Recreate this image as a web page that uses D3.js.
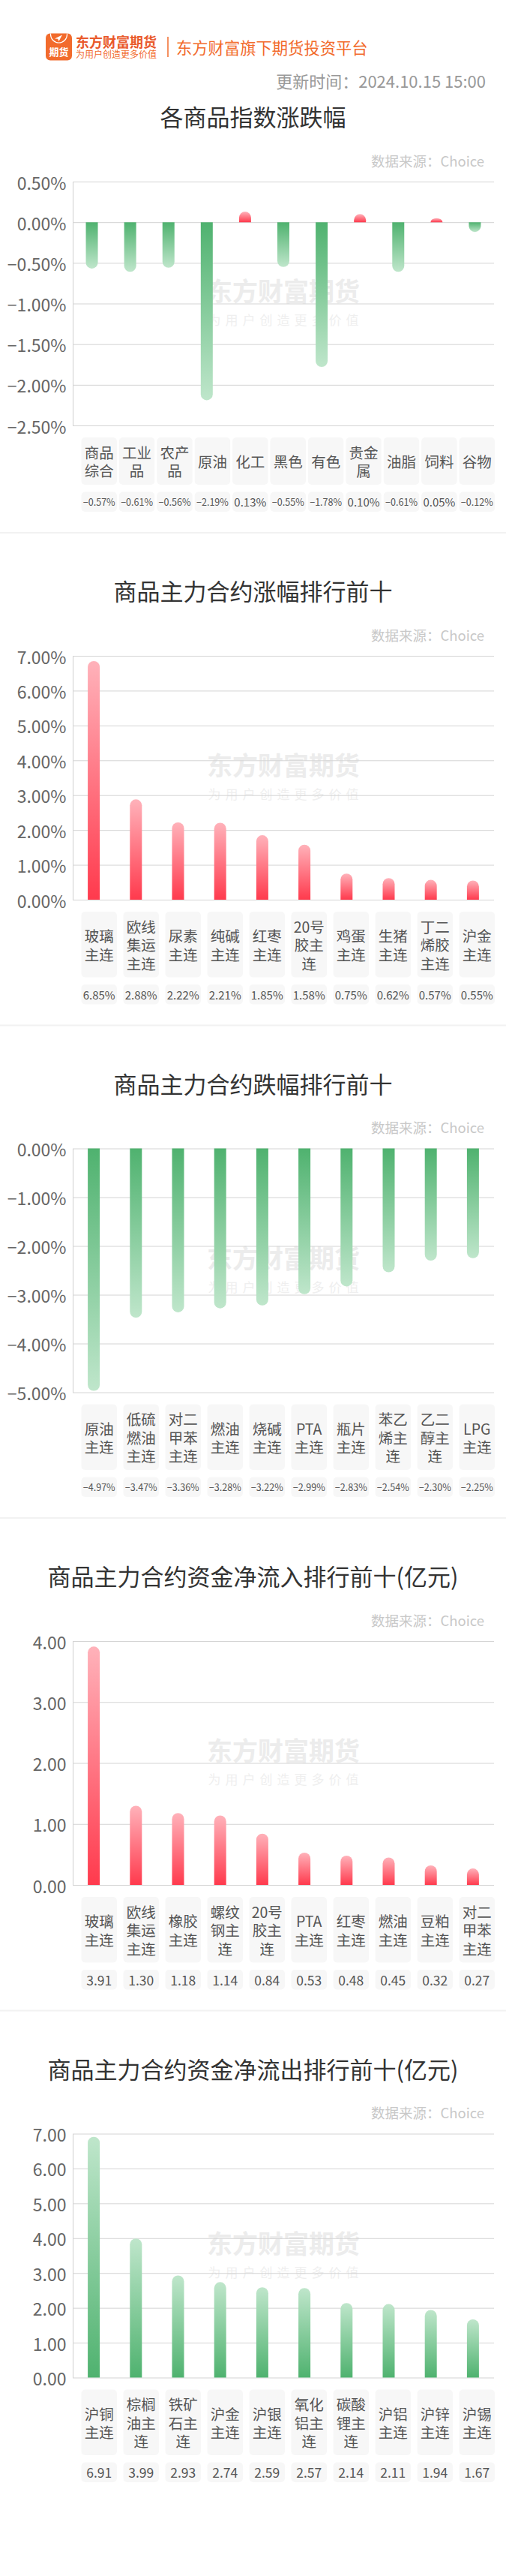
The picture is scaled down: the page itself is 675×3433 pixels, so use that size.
<!DOCTYPE html>
<html><head><meta charset="utf-8">
<script src="https://cdn.jsdelivr.net/npm/d3@7"></script>
<style>
html,body{margin:0;padding:0;background:#fff;}
svg{display:block;font-family:"Noto Sans CJK SC","Noto Sans",sans-serif;}
</style></head><body>
<svg id="chart" width="675" height="3433"></svg>
<script>
// ---------------- DATA ----------------
const brandName = "东方财富期货";
const brandSlogan = "为用户创造更多价值";
const brandTagline = "东方财富旗下期货投资平台";
const updateTime = "更新时间：2024.10.15 15:00";
const sourceText = "数据来源：Choice";

const c1Title = "各商品指数涨跌幅";
const c1Categories = ["商品综合","工业品","农产品","原油","化工","黑色","有色","贵金属","油脂","饲料","谷物"];
const c1Values = [-0.57,-0.61,-0.56,-2.19,0.13,-0.55,-1.78,0.10,-0.61,0.05,-0.12];
const c1Ticks = [0.5,0,-0.5,-1,-1.5,-2,-2.5];

const c2Title = "商品主力合约涨幅排行前十";
const c2Categories = ["玻璃主连","欧线集运主连","尿素主连","纯碱主连","红枣主连","20号胶主连","鸡蛋主连","生猪主连","丁二烯胶主连","沪金主连"];
const c2Values = [6.85,2.88,2.22,2.21,1.85,1.58,0.75,0.62,0.57,0.55];
const c2Ticks = [7,6,5,4,3,2,1,0];

const c3Title = "商品主力合约跌幅排行前十";
const c3Categories = ["原油主连","低硫燃油主连","对二甲苯主连","燃油主连","烧碱主连","PTA主连","瓶片主连","苯乙烯主连","乙二醇主连","LPG主连"];
const c3Values = [-4.97,-3.47,-3.36,-3.28,-3.22,-2.99,-2.83,-2.54,-2.30,-2.25];
const c3Ticks = [0,-1,-2,-3,-4,-5];

const c4Title = "商品主力合约资金净流入排行前十(亿元)";
const c4Categories = ["玻璃主连","欧线集运主连","橡胶主连","螺纹钢主连","20号胶主连","PTA主连","红枣主连","燃油主连","豆粕主连","对二甲苯主连"];
const c4Values = [3.91,1.30,1.18,1.14,0.84,0.53,0.48,0.45,0.32,0.27];
const c4Ticks = [4,3,2,1,0];

const c5Title = "商品主力合约资金净流出排行前十(亿元)";
const c5Categories = ["沪铜主连","棕榈油主连","铁矿石主连","沪金主连","沪银主连","氧化铝主连","碳酸锂主连","沪铝主连","沪锌主连","沪锡主连"];
const c5Values = [6.91,3.99,2.93,2.74,2.59,2.57,2.14,2.11,1.94,1.67];
const c5Ticks = [7,6,5,4,3,2,1,0];

const charts = [
  {title:c1Title, categories:c1Categories, values:c1Values, ticks:c1Ticks, suffix:"%", mode:"sign"},
  {title:c2Title, categories:c2Categories, values:c2Values, ticks:c2Ticks, suffix:"%", mode:"sign"},
  {title:c3Title, categories:c3Categories, values:c3Values, ticks:c3Ticks, suffix:"%", mode:"sign"},
  {title:c4Title, categories:c4Categories, values:c4Values, ticks:c4Ticks, suffix:"", mode:"sign"},
  {title:c5Title, categories:c5Categories, values:c5Values, ticks:c5Ticks, suffix:"", mode:"green"}
];

// ---------------- DRAW ----------------
const W = 675, plotL = 97, plotR = 659, plotH = 325;
const ORANGE = "#f26b2c";
const svg = d3.select("#chart");
const defs = svg.append("defs");

function grad(id, c1, c2){
  const lg = defs.append("linearGradient").attr("id",id).attr("x1",0).attr("y1",0).attr("x2",0).attr("y2",1);
  lg.append("stop").attr("offset","0%").attr("stop-color",c1);
  lg.append("stop").attr("offset","100%").attr("stop-color",c2);
}
const RED_S="#ff3a4d", RED_L="#ffb2ba", GRN_S="#4fb26f", GRN_L="#bfe6cb";
grad("redUp", RED_L, RED_S);
grad("redDown", RED_S, RED_L);
grad("greenUp", GRN_L, GRN_S);
grad("greenDown", GRN_S, GRN_L);

// header
const clip = defs.append("clipPath").attr("id","logoClip");
clip.append("rect").attr("x",61).attr("y",44.5).attr("width",35).attr("height",36).attr("rx",6);
const logo = svg.append("g");
logo.append("rect").attr("x",61).attr("y",44.5).attr("width",35).attr("height",36).attr("rx",6).attr("fill",ORANGE);
logo.append("circle").attr("cx",78.5).attr("cy",46).attr("r",11).attr("fill","none").attr("stroke","#fff").attr("stroke-width",1.2).attr("clip-path","url(#logoClip)");
logo.append("path").attr("d","M73,51.5 L83,46.5 L78.5,55 L77.2,51.8 Z").attr("fill","#fff");
logo.append("text").attr("x",78.5).attr("y",68).attr("text-anchor","middle").attr("dominant-baseline","central")
  .attr("font-size",13).attr("font-weight",700).attr("fill","#fff").text("期货");
svg.append("text").attr("x",101).attr("y",55).attr("dominant-baseline","central").attr("font-size",18).attr("font-weight",700).attr("fill","#e9592b").text(brandName);
svg.append("text").attr("x",101).attr("y",71.5).attr("dominant-baseline","central").attr("font-size",12).attr("fill",ORANGE).text(brandSlogan);
svg.append("line").attr("x1",224).attr("x2",224).attr("y1",49).attr("y2",76).attr("stroke",ORANGE).attr("stroke-width",1.5);
svg.append("text").attr("x",235).attr("y",62).attr("dominant-baseline","central").attr("font-size",21.3).attr("fill",ORANGE).text(brandTagline);
svg.append("text").attr("x",648).attr("y",107).attr("text-anchor","end").attr("dominant-baseline","central").attr("font-size",22).attr("fill","#999").text(updateTime);

// helpers
const measurer = svg.append("text").style("visibility","hidden");
function textW(str, fs){ measurer.attr("font-size",fs).text(str); return measurer.node().getComputedTextLength(); }
function wrap(str, maxW, fs){
  const lines=[]; let cur="";
  for(const ch of Array.from(str)){
    if(cur && textW(cur+ch, fs) > maxW){ lines.push(cur); cur = ch; }
    else cur += ch;
  }
  if(cur) lines.push(cur);
  return lines;
}
function barPath(cx, yz, ye, w){
  const r = w/2, x0 = cx - r, x1 = cx + r;
  const h = Math.abs(ye - yz);
  const ry = Math.min(r, h);
  if(ye < yz){
    return `M${x0},${yz}V${ye+ry}A${r},${ry} 0 0 1 ${x1},${ye+ry}V${yz}Z`;
  } else {
    return `M${x0},${yz}V${ye-ry}A${r},${ry} 0 0 0 ${x1},${ye-ry}V${yz}Z`;
  }
}

const LABEL_FS = 19.5, LINE_H = 24.5, BOX_W = 47.4, BOX_L = 108.5, BOX_R = 660;
let titleY = 154.5;

charts.forEach((c, ci) => {
  const g = svg.append("g");
  g.append("text").attr("x",337.5).attr("y",titleY).attr("text-anchor","middle").attr("dominant-baseline","central")
    .attr("font-size",31).attr("fill","#333").text(c.title);
  g.append("text").attr("x",646).attr("y",titleY+59).attr("text-anchor","end").attr("dominant-baseline","central")
    .attr("font-size",18.5).attr("fill","#c8c8c8").text(sourceText);

  const top = titleY + 87.5, bottom = top + plotH;
  const y = d3.scaleLinear().domain(d3.extent(c.ticks)).range([bottom, top]);
  const x = d3.scaleBand().domain(c.categories).range([plotL, plotR]);

  // watermark
  const mid = (top + bottom)/2, wmx = (plotL + plotR)/2;
  g.append("text").attr("x",wmx).attr("y",mid-18).attr("text-anchor","middle").attr("dominant-baseline","central")
    .attr("font-size",34).attr("font-weight",700).attr("fill","#ececec").text(brandName);
  g.append("text").attr("x",wmx+3).attr("y",mid+21).attr("text-anchor","middle").attr("dominant-baseline","central")
    .attr("font-size",17).attr("letter-spacing",6).attr("fill","#efefef").text(brandSlogan);

  // axis + grid
  const axis = d3.axisLeft(y).tickValues(c.ticks).tickSize(-(plotR-plotL)).tickSizeOuter(0).tickPadding(8.5)
    .tickFormat(d => d3.format(".2f")(d) + c.suffix);
  const ag = g.append("g").attr("transform",`translate(${plotL},0)`).call(axis);
  ag.attr("font-family",null).attr("font-size",23);
  ag.select(".domain").attr("stroke","#cfcfcf");
  ag.selectAll(".tick line").attr("stroke","#d4d4d4");
  ag.selectAll(".tick text").attr("fill","#666").attr("dy",null).attr("dominant-baseline","central");

  // bars
  const bw = 16;
  g.selectAll("path.bar").data(c.values).join("path").attr("class","bar")
    .attr("d", (v,j) => barPath(x(c.categories[j]) + x.bandwidth()/2, y(0), y(v), bw))
    .attr("fill", v => {
      if(c.mode === "green") return v >= 0 ? "url(#greenUp)" : "url(#greenDown)";
      return v >= 0 ? "url(#redUp)" : "url(#greenDown)";
    });

  // labels
  const n = c.categories.length;
  const step = (BOX_R - BOX_L - BOX_W) / (n - 1);
  const wrapped = c.categories.map(s => wrap(s, 43, LABEL_FS));
  const maxLines = d3.max(wrapped, l => l.length);
  const boxTop = bottom + 16, boxH = maxLines * LINE_H + 14;
  const valTop = boxTop + boxH + 9.5, valH = 26.5;

  wrapped.forEach((lines, j) => {
    const bx = BOX_L + j*step;
    g.append("rect").attr("x",bx).attr("y",boxTop).attr("width",BOX_W).attr("height",boxH).attr("rx",5).attr("fill","#f7f7f7");
    const cy = boxTop + boxH/2;
    lines.forEach((ln, k) => {
      g.append("text").attr("x",bx+BOX_W/2).attr("y",cy + (k-(lines.length-1)/2)*LINE_H)
        .attr("text-anchor","middle").attr("dominant-baseline","central")
        .attr("font-size",LABEL_FS).attr("fill","#555").text(ln);
    });
    g.append("rect").attr("x",bx).attr("y",valTop).attr("width",BOX_W).attr("height",valH).attr("rx",5).attr("fill","#f7f7f7");
    const vs = d3.format(".2f")(c.values[j]) + c.suffix;
    let fs = 17.5;
    const tw = textW(vs, fs);
    if(tw > 43) fs = fs * 43 / tw;
    g.append("text").attr("x",bx+BOX_W/2).attr("y",valTop+valH/2)
      .attr("text-anchor","middle").attr("dominant-baseline","central")
      .attr("font-size",fs).attr("fill","#555").text(vs);
  });

  const sepY = valTop + valH + 28;
  if(ci < charts.length - 1){
    g.append("line").attr("x1",0).attr("x2",W).attr("y1",sepY).attr("y2",sepY).attr("stroke","#f2f2f2").attr("stroke-width",2);
  }
  titleY = sepY + 76.5;
});
measurer.remove();
</script>
</body></html>
